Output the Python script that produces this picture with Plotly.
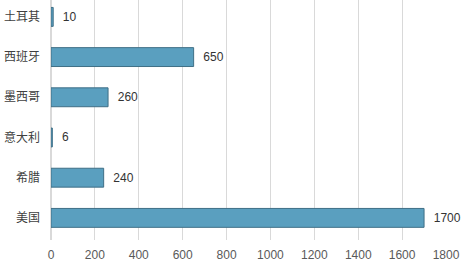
import plotly.graph_objects as go

categories = ["美国", "希腊", "意大利", "墨西哥", "西班牙", "土耳其"]
values = [1700, 240, 6, 260, 650, 10]
x_ticks = [0, 200, 400, 600, 800, 1000, 1200, 1400, 1600, 1800]

fig = go.Figure()
fig.add_trace(go.Bar(
    y=categories, x=values, orientation="h",
    width=0.47,
    marker=dict(color="#5a9fbf", line=dict(color="#3f6f86", width=1)),
    text=["  " + str(v) for v in values], textposition="outside",
    textfont=dict(size=12, color="#333333", family="Liberation Sans, Arial, sans-serif"),
    cliponaxis=False,
))
fig.update_layout(
    width=463, height=264,
    margin=dict(l=51, r=17, t=0, b=24),
    paper_bgcolor="white", plot_bgcolor="white",
    font=dict(family="Noto Sans CJK SC, sans-serif", size=11, color="#404040"),
    showlegend=False,
    uniformtext=dict(minsize=8),
)
fig.update_xaxes(range=[0, 1800], tickvals=x_ticks, showgrid=True, gridcolor="#d9d9d9",
                 gridwidth=1, zeroline=True, zerolinecolor="#d9d9d9", showline=False,
                 ticks="", ticklabelstandoff=6,
                 tickfont=dict(size=12, color="#595959", family="Liberation Sans, Arial, sans-serif"))
fig.update_yaxes(categoryorder="array", categoryarray=categories, range=[-0.55, 5.42],
                 showgrid=False, zeroline=False, showline=False, ticks="",
                 ticklabelstandoff=10, tickfont=dict(size=12, color="#404040"))
fig.write_html("out.html")
